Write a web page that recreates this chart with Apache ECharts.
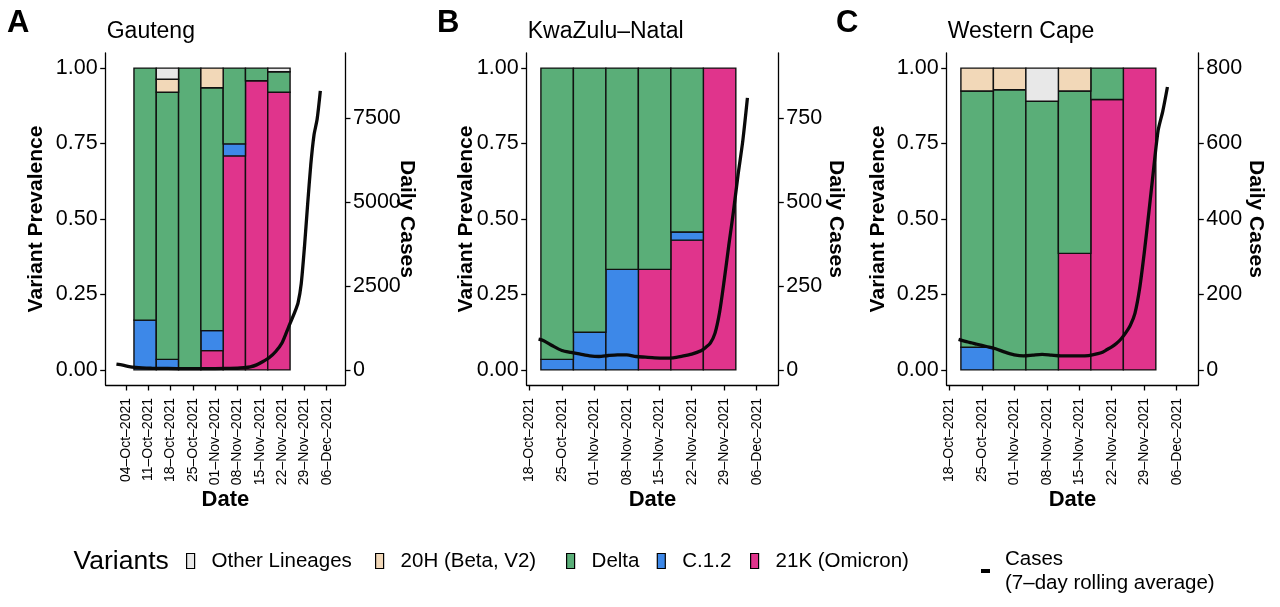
<!DOCTYPE html>
<html><head><meta charset="utf-8">
<script src="https://cdn.jsdelivr.net/npm/echarts@6/dist/echarts.min.js"></script>
<style>html,body{margin:0;padding:0;background:#fff}#c{width:1280px;height:607px}</style>
</head><body><div id="c"></div>
<script>
// ---------------- DATA ----------------
const variantNames = ['Other Lineages', '20H (Beta, V2)', 'Delta', 'C.1.2', '21K (Omicron)'];
const panelLetters = ['A', 'B', 'C'];
const panelTitles = ['Gauteng', 'KwaZulu–Natal', 'Western Cape'];

// tick labels (x)
const ticksA = ['04–Oct–2021','11–Oct–2021','18–Oct–2021','25–Oct–2021','01–Nov–2021','08–Nov–2021','15–Nov–2021','22–Nov–2021','29–Nov–2021','06–Dec–2021'];
const ticksBC = ['18–Oct–2021','25–Oct–2021','01–Nov–2021','08–Nov–2021','15–Nov–2021','22–Nov–2021','29–Nov–2021','06–Dec–2021'];
const prevTicks = [0, 0.25, 0.5, 0.75, 1];
const casesTicksA = [0, 2500, 5000, 7500];
const casesTicksB = [0, 250, 500, 750];
const casesTicksC = [0, 200, 400, 600, 800];

// weekly sequencing bars (bar centre dates) and variant shares
const weeksA = ['10-Oct-2021','17-Oct-2021','24-Oct-2021','31-Oct-2021','07-Nov-2021','14-Nov-2021','21-Nov-2021'];
const otherA   = [0, 0.037, 0, 0, 0, 0, 0.012];
const betaA    = [0, 0.043, 0, 0.065, 0, 0, 0];
const deltaA   = [0.835, 0.885, 1.0, 0.805, 0.251, 0.042, 0.068];
const c12A     = [0.165, 0.035, 0, 0.066, 0.040, 0, 0];
const omicronA = [0, 0, 0, 0.064, 0.709, 0.958, 0.920];

const weeksB = ['24-Oct-2021','31-Oct-2021','07-Nov-2021','14-Nov-2021','21-Nov-2021','28-Nov-2021'];
const otherB   = [0, 0, 0, 0, 0, 0];
const betaB    = [0, 0, 0, 0, 0, 0];
const deltaB   = [0.965, 0.875, 0.667, 0.667, 0.543, 0];
const c12B     = [0.035, 0.125, 0.333, 0, 0.027, 0];
const omicronB = [0, 0, 0, 0.333, 0.430, 1.0];

const weeksC = ['24-Oct-2021','31-Oct-2021','07-Nov-2021','14-Nov-2021','21-Nov-2021','28-Nov-2021'];
const otherC   = [0, 0, 0.110, 0, 0, 0];
const betaC    = [0.076, 0.072, 0, 0.076, 0, 0];
const deltaC   = [0.849, 0.928, 0.890, 0.538, 0.104, 0];
const c12C     = [0.075, 0, 0, 0, 0, 0];
const omicronC = [0, 0, 0, 0.386, 0.896, 1.0];

// daily cases (7-day rolling average)
const casesDatesA = ['01-Oct-2021','03-Oct-2021','05-Oct-2021','07-Oct-2021','09-Oct-2021','12-Oct-2021','16-Oct-2021','20-Oct-2021','24-Oct-2021','28-Oct-2021','01-Nov-2021','05-Nov-2021','08-Nov-2021','10-Nov-2021','12-Nov-2021','14-Nov-2021','16-Nov-2021','18-Nov-2021','20-Nov-2021','22-Nov-2021','24-Nov-2021','26-Nov-2021','27-Nov-2021','28-Nov-2021','29-Nov-2021','30-Nov-2021','01-Dec-2021','02-Dec-2021','03-Dec-2021','04-Dec-2021'];
const casesA = [170, 140, 100, 75, 60, 50, 45, 40, 40, 40, 40, 45, 50, 65, 90, 150, 250, 370, 550, 810, 1270, 1730, 2000, 2570, 3650, 4920, 6120, 7000, 7480, 8320];

const casesDatesB = ['20-Oct-2021','21-Oct-2021','23-Oct-2021','25-Oct-2021','27-Oct-2021','29-Oct-2021','31-Oct-2021','02-Nov-2021','04-Nov-2021','06-Nov-2021','08-Nov-2021','10-Nov-2021','12-Nov-2021','14-Nov-2021','16-Nov-2021','18-Nov-2021','20-Nov-2021','22-Nov-2021','24-Nov-2021','25-Nov-2021','26-Nov-2021','27-Nov-2021','28-Nov-2021','29-Nov-2021','30-Nov-2021','01-Dec-2021','02-Dec-2021','03-Dec-2021','04-Dec-2021'];
const casesB = [92, 88, 72, 58, 52, 47, 42, 40, 43, 45, 45, 40, 38, 36, 35, 36, 41, 47, 57, 67, 80, 109, 172, 268, 373, 474, 584, 683, 811];

const casesDatesC = ['20-Oct-2021','22-Oct-2021','24-Oct-2021','26-Oct-2021','28-Oct-2021','30-Oct-2021','01-Nov-2021','03-Nov-2021','05-Nov-2021','07-Nov-2021','09-Nov-2021','11-Nov-2021','13-Nov-2021','15-Nov-2021','17-Nov-2021','19-Nov-2021','20-Nov-2021','21-Nov-2021','22-Nov-2021','23-Nov-2021','24-Nov-2021','25-Nov-2021','26-Nov-2021','27-Nov-2021','28-Nov-2021','29-Nov-2021','30-Nov-2021','01-Dec-2021','02-Dec-2021','03-Dec-2021','04-Dec-2021'];
const casesC = [81, 74, 68, 62, 56, 47, 40, 37, 39, 41, 39, 37, 37, 37, 38, 43, 47, 54, 61, 70, 82, 98, 118, 150, 215, 310, 418, 530, 635, 686, 750];

// ---------------- STYLE / LAYOUT ----------------
const variantColors = ['#E8E8E8', '#F2D8B8', '#5AAE78', '#3D88E8', '#E0348C'];
const FONT = '"Liberation Sans", Arial, Helvetica, sans-serif';
const MON = ['Jan','Feb','Mar','Apr','May','Jun','Jul','Aug','Sep','Oct','Nov','Dec'];
function dayNum(s) { const p = s.split(/[-–]/); return Date.UTC(+p[2], MON.indexOf(p[1]), +p[0]) / 864e5; }

const panels = [
  { weeks: weeksA, shares: [otherA, betaA, deltaA, c12A, omicronA], ticks: ticksA, cd: casesDatesA, cv: casesA,
    k: 9000, rt: casesTicksA, gl: 105.7, gw: 239.3, padL: 6.37, padR: 68.74, lGap: 59, rGap: 51, letterX: 7 },
  { weeks: weeksB, shares: [otherB, betaB, deltaB, c12B, omicronB], ticks: ticksBC, cd: casesDatesB, cv: casesB,
    k: 900, rt: casesTicksB, gl: 526.7, gw: 251.6, padL: 0.56, padR: 53.65, lGap: 50, rGap: 47, letterX: 437 },
  { weeks: weeksC, shares: [otherC, betaC, deltaC, c12C, omicronC], ticks: ticksBC, cd: casesDatesC, cv: casesC,
    k: 800, rt: casesTicksC, gl: 946.7, gw: 251.6, padL: 0.56, padR: 53.65, lGap: 58, rGap: 47, letterX: 836 }
];
const TOP = 53, H = 332, WEEK = 7;
const axisLine = { show: true, onZero: false, lineStyle: { color: '#000', width: 1.3 } };
const axisTickBase = { show: true, length: 5.5, lineStyle: { color: '#000', width: 1.3 } };

const grids = [], xAxes = [], yAxes = [], series = [], titles = [];
panels.forEach((p, i) => {
  grids.push({ left: p.gl, width: p.gw, top: TOP, height: H, containLabel: false, outerBoundsMode: 'none' });
  const t0 = dayNum(p.ticks[0]);
  const tickVals = p.ticks.map(dayNum);
  const labelMap = {}; p.ticks.forEach((t, j) => { labelMap[tickVals[j]] = t; });
  xAxes.push({
    type: 'value', gridIndex: i, min: t0 - p.padL, max: t0 + p.padR,
    name: 'Date', nameLocation: 'middle', nameGap: 104, nameMoveOverlap: false,
    nameTextStyle: { fontFamily: FONT, fontWeight: 'bold', fontSize: 22, color: '#000', verticalAlign: 'top' },
    axisLine: axisLine, splitLine: { show: false },
    axisTick: Object.assign({ customValues: tickVals }, axisTickBase),
    axisLabel: { customValues: tickVals, rotate: 90, margin: 13, fontSize: 14, color: '#000', fontFamily: FONT,
      formatter: v => labelMap[v] || '' }
  });
  yAxes.push({
    type: 'value', gridIndex: i, position: 'left', min: -0.05, max: 1.05,
    name: 'Variant Prevalence', nameLocation: 'middle', nameGap: p.lGap, nameMoveOverlap: false,
    nameTextStyle: { fontFamily: FONT, fontWeight: 'bold', fontSize: 21, color: '#000' },
    axisLine: axisLine, splitLine: { show: false },
    axisTick: Object.assign({ customValues: prevTicks }, axisTickBase),
    axisLabel: { customValues: prevTicks, margin: 8, fontSize: 21.5, color: '#000', fontFamily: FONT,
      formatter: v => v.toFixed(2) }
  });
  yAxes.push({
    type: 'value', gridIndex: i, position: 'right', min: -0.05 * p.k, max: 1.05 * p.k, alignTicks: false,
    name: 'Daily Cases', nameLocation: 'middle', nameGap: p.rGap, nameRotate: -90, nameMoveOverlap: false,
    nameTextStyle: { fontFamily: FONT, fontWeight: 'bold', fontSize: 21, color: '#000' },
    axisLine: axisLine, splitLine: { show: false },
    axisTick: Object.assign({ customValues: p.rt }, axisTickBase),
    axisLabel: { customValues: p.rt, margin: 8, fontSize: 21.5, color: '#000', fontFamily: FONT,
      formatter: v => String(v) }
  });
  // stacked bars: bottom -> top = Omicron, C.1.2, Delta, Beta, Other
  const order = [4, 3, 2, 1, 0];
  const cum = p.weeks.map(() => 0);
  order.forEach(v => {
    const vals = p.shares[v];
    const data = p.weeks.map((w, j) => { const lo = cum[j]; const hi = lo + vals[j]; cum[j] = hi; return [dayNum(w), lo, hi]; });
    series.push({
      type: 'custom', name: variantNames[v], xAxisIndex: i, yAxisIndex: 2 * i, z: 2,
      itemStyle: { color: variantColors[v], borderColor: '#000', borderWidth: 1 },
      encode: { x: 0, y: [1, 2] },
      data: data,
      renderItem: (params, api) => {
        const c = api.value(0), lo = api.value(1), hi = api.value(2);
        if (hi - lo <= 1e-9) return null;
        const a = api.coord([c - WEEK / 2, hi]);
        const b = api.coord([c + WEEK / 2, lo]);
        return { type: 'rect', shape: { x: a[0], y: a[1], width: b[0] - a[0], height: b[1] - a[1] },
          style: { fill: variantColors[v], stroke: '#111', lineWidth: 1.4 } };
      }
    });
  });
  series.push({
    type: 'line', name: 'Cases', xAxisIndex: i, yAxisIndex: 2 * i + 1, z: 5,
    showSymbol: false, symbol: 'none', smooth: 0.25,
    lineStyle: { color: '#0a0a0a', width: 3.3 }, itemStyle: { color: '#000' },
    data: p.cd.map((d, j) => [dayNum(d), p.cv[j]])
  });
  titles.push({ text: panelLetters[i], left: p.letterX, top: 8, padding: 0,
    textStyle: { fontFamily: FONT, fontWeight: 'bold', fontSize: 31, color: '#000' } });
  titles.push({ text: panelTitles[i], left: p.gl + 1, top: 20, padding: 0,
    textStyle: { fontFamily: FONT, fontWeight: 'normal', fontSize: 23, color: '#000' } });
});
titles.push({ text: 'Variants', left: 73.5, top: 548, padding: 0,
  textStyle: { fontFamily: FONT, fontWeight: 'normal', fontSize: 26.5, color: '#000' } });

const legendBase = {
  orient: 'horizontal', padding: 0, itemWidth: 8, itemHeight: 15, icon: 'rect', selectedMode: false,
  itemStyle: { borderColor: '#000', borderWidth: 1.2 },
  textStyle: { fontFamily: FONT, fontSize: 20.5, color: '#000', lineHeight: 22, padding: [0, 0, 0, 12] }
};
const legendLefts = [186, 375, 566, 656.7, 750];
const legends = variantNames.map((n, i) => Object.assign({}, legendBase, { data: [n], left: legendLefts[i], top: 550 }));
legends.push(Object.assign({}, legendBase, {
  data: ['Cases'], left: 981, top: 547, itemWidth: 9, itemHeight: 4,
  itemStyle: { color: '#000', borderWidth: 0 },
  formatter: () => 'Cases\n(7–day rolling average)',
  textStyle: { fontFamily: FONT, fontSize: 20.5, color: '#000', lineHeight: 24, padding: [0, 0, 0, 10] }
}));

const chart = echarts.init(document.getElementById('c'), null, { renderer: 'canvas' });
chart.setOption({
  animation: false, backgroundColor: '#fff', textStyle: { fontFamily: FONT },
  title: titles, legend: legends, grid: grids, xAxis: xAxes, yAxis: yAxes, series: series
});
</script></body></html>
